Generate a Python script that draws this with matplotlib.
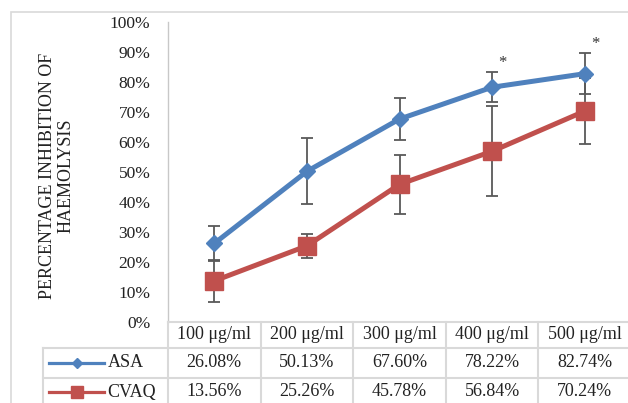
import matplotlib
matplotlib.use("Agg")
import matplotlib.pyplot as plt
from matplotlib.patches import Rectangle

plt.rcParams['font.family'] = ['Liberation Serif', 'DejaVu Serif']

# dados
categorias = ["100 μg/ml", "200 μg/ml", "300 μg/ml", "400 μg/ml", "500 μg/ml"]
asa = [26.08, 50.13, 67.60, 78.22, 82.74]
cvaq = [13.56, 25.26, 45.78, 56.84, 70.24]
asa_err = [5.8, 11.0, 6.9, 5.0, 6.9]
cvaq_err = [6.9, 4.0, 9.9, 15.0, 11.0]
signif_asa = ["", "", "", "*", "*"]
series = ["ASA", "CVAQ"]
cores = ["#4f81bd", "#c0504d"]
marcadores = ["D", "s"]

# layout em pixels
W_PX, H_PX = 628, 403
AX_L, AX_R = 168, 631
AX_T, AX_B = 22, 321.5
ROW_Y = [321.5, 347.5, 377.5, 409]
ROW_HEAD_L = 43
GRID = "#d9d9d9"

fig = plt.figure(figsize=(W_PX / 100, H_PX / 100), dpi=100)

# moldura do gráfico
fig.add_artist(Rectangle((11 / W_PX, -0.1), 1.2, 1 - 12 / H_PX + 0.1,
                         transform=fig.transFigure, fill=False,
                         edgecolor=GRID, linewidth=1.2))

ax = fig.add_axes([AX_L / W_PX, 1 - AX_B / H_PX,
                   (AX_R - AX_L) / W_PX, (AX_B - AX_T) / H_PX])
ax.set_xlim(-0.5, len(categorias) - 0.5)
ax.set_ylim(0, 100)
xs = list(range(len(categorias)))

for vals, errs in [(asa, asa_err), (cvaq, cvaq_err)]:
    ax.errorbar(xs, vals, yerr=errs, fmt='none', ecolor='#595959',
                elinewidth=1.3, capsize=4.6, capthick=1.3, zorder=2)
for vals, cor, mk, msz in [(asa, cores[0], 'D', 8.5), (cvaq, cores[1], 's', 12.5)]:
    ax.plot(xs, vals, color=cor, linewidth=3.6, marker=mk, markersize=msz,
            zorder=3)

for i, s in enumerate(signif_asa):
    if s:
        ax.text(i + 0.11, asa[i] + asa_err[i] + 3, s, ha='center', va='center',
                fontsize=12, color='#333333')

ax.set_yticks(range(0, 101, 10))
ax.set_yticklabels([f"{v}%" for v in range(0, 101, 10)])
ax.tick_params(axis='y', length=0, pad=12.6, labelsize=12.5, labelcolor='#222222')
ax.set_xticks([])
for lado in ['top', 'right', 'bottom']:
    ax.spines[lado].set_visible(False)
ax.spines['left'].set_color('#c8c8c8')
ax.spines['left'].set_linewidth(1.0)
ax.patch.set_alpha(0)

fig.text(56.5 / W_PX, 1 - 176 / H_PX, "PERCENTAGE INHIBITION OF\nHAEMOLYSIS",
         rotation=90, ha='center', va='center', fontsize=13, linespacing=1.1,
         color='#222222')

# tabela de dados
ov = fig.add_axes([0, 0, 1, 1], zorder=5)
ov.set_xlim(0, W_PX)
ov.set_ylim(H_PX, 0)
ov.axis('off')

col_w = (AX_R - AX_L) / len(categorias)
lw = 1.5
ov.plot([AX_L, AX_R], [ROW_Y[0], ROW_Y[0]], color=GRID, lw=lw)
for y in ROW_Y[1:3]:
    ov.plot([ROW_HEAD_L, AX_R], [y, y], color=GRID, lw=lw)
ov.plot([ROW_HEAD_L, ROW_HEAD_L], [ROW_Y[1], ROW_Y[3]], color=GRID, lw=lw)
for k in range(len(categorias) + 1):
    x = AX_L + k * col_w
    ov.plot([x, x], [ROW_Y[0], ROW_Y[3]], color=GRID, lw=lw)

linhas_y = [(ROW_Y[1] + ROW_Y[2]) / 2, 392]

for i, cat in enumerate(categorias):
    cx = AX_L + (i + 0.5) * col_w
    ov.text(cx, (ROW_Y[0] + ROW_Y[1]) / 2, cat, ha='center', va='center',
            fontsize=13, color='#222222')
    for r, vals in enumerate([asa, cvaq]):
        ov.text(cx, linhas_y[r], f"{vals[i]:.2f}%", ha='center', va='center',
                fontsize=13, color='#222222')

for r, (nome, cor, mk, msz) in enumerate(zip(series, cores, marcadores, [5.0, 8.5])):
    cy = linhas_y[r]
    ov.plot([49, 104], [cy, cy], color=cor, lw=2.3)
    ov.plot([76.7], [cy], marker=mk, color=cor, markersize=msz)
    ov.text(107.5, cy, nome, ha='left', va='center', fontsize=13, color='#222222')

plt.savefig("out.png", dpi=100)
